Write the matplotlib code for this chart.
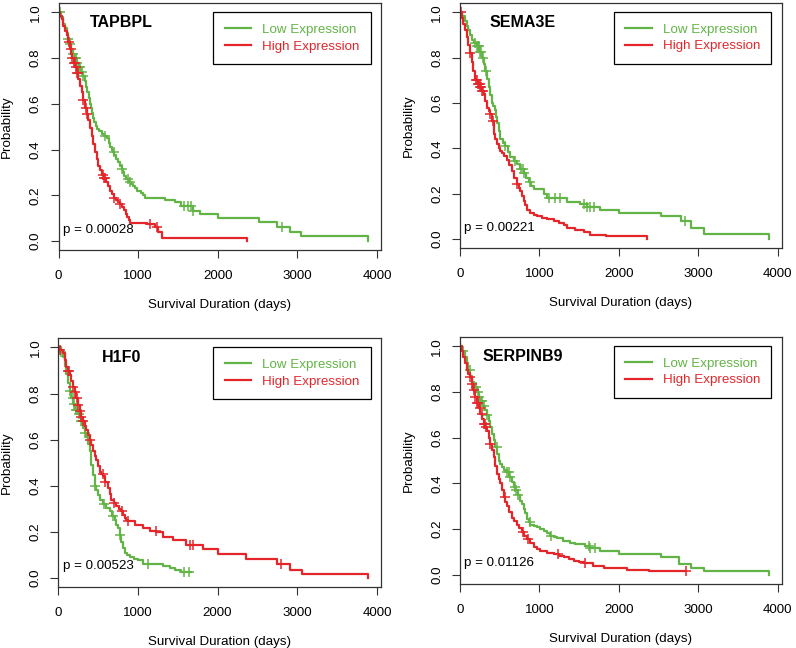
import numpy as np
import matplotlib.pyplot as plt

plt.rcParams['font.family'] = ['Liberation Sans', 'DejaVu Sans']

GREEN = '#63b446'
RED = '#e4262b'

genes = ['TAPBPL', 'SEMA3E', 'H1F0', 'SERPINB9']
pvals = ['p = 0.00028', 'p = 0.00221', 'p = 0.00523', 'p = 0.01126']

# TAPBPL
tapbpl_low_t = [0, 30, 60, 80, 100, 120, 140, 160, 180, 200, 225, 250, 280, 305, 330, 345, 360, 375, 390,
                405, 420, 435, 450, 465, 480, 510, 540, 575, 610, 630, 645, 665, 680, 700, 720, 745, 770,
                790, 810, 825, 840, 880, 910, 940, 965, 990, 1040, 1060, 1085, 1340, 1460, 1540, 1690,
                1770, 2000, 2520, 2740, 2900, 3050, 3890]
tapbpl_low_s = [1.0, 0.98, 0.95, 0.93, 0.91, 0.885, 0.86, 0.84, 0.82, 0.80, 0.78, 0.76, 0.74, 0.72, 0.70,
                0.675, 0.65, 0.625, 0.60, 0.58, 0.56, 0.54, 0.52, 0.505, 0.49, 0.48, 0.47, 0.46, 0.45,
                0.43, 0.41, 0.40, 0.39, 0.375, 0.36, 0.345, 0.33, 0.315, 0.30, 0.285, 0.27, 0.26, 0.25,
                0.24, 0.23, 0.22, 0.21, 0.20, 0.19, 0.18, 0.17, 0.155, 0.13, 0.12, 0.10, 0.085, 0.06,
                0.04, 0.02, 0.0]
tapbpl_low_cens = [20, 120, 140, 185, 200, 215, 230, 250, 270, 290, 310, 580, 690, 790, 875, 900,
                   1580, 1620, 1660, 1690, 2800]
tapbpl_high_t = [0, 20, 40, 60, 80, 100, 120, 140, 155, 170, 190, 205, 225, 247, 270, 290, 310, 330, 350,
                 372, 395, 415, 435, 457, 478, 498, 520, 540, 570, 600, 625, 650, 670, 690, 715, 740, 765,
                 790, 815, 840, 860, 880, 895, 1105, 1210, 1250, 1300, 2360]
tapbpl_high_s = [1.0, 0.985, 0.97, 0.94, 0.92, 0.90, 0.87, 0.84, 0.82, 0.80, 0.78, 0.76, 0.735, 0.71,
                 0.68, 0.65, 0.615, 0.58, 0.555, 0.53, 0.495, 0.46, 0.425, 0.39, 0.36, 0.33, 0.31, 0.29,
                 0.275, 0.26, 0.24, 0.22, 0.205, 0.19, 0.18, 0.17, 0.16, 0.15, 0.135, 0.12, 0.105, 0.09,
                 0.08, 0.075, 0.06, 0.04, 0.015, 0.0]
tapbpl_high_cens = [130, 150, 170, 190, 200, 215, 230, 245, 310, 345, 360, 555, 570, 580, 690, 770,
                    1150, 1230]

# SEMA3E
sema3e_low_t = [0, 30, 63, 85, 105, 125, 147, 175, 210, 240, 274, 295, 316, 335, 358, 380, 400, 420, 442,
                453, 463, 485, 505, 535, 568, 600, 632, 675, 716, 760, 800, 830, 863, 895, 926, 1053,
                1095, 1347, 1516, 1600, 1768, 2000, 2530, 2780, 2905, 3070, 3890]
sema3e_low_s = [1.0, 0.985, 0.96, 0.94, 0.92, 0.90, 0.88, 0.865, 0.85, 0.825, 0.80, 0.77, 0.74, 0.705,
                0.67, 0.635, 0.60, 0.585, 0.57, 0.54, 0.51, 0.475, 0.44, 0.425, 0.41, 0.385, 0.36, 0.345,
                0.33, 0.31, 0.29, 0.27, 0.25, 0.235, 0.22, 0.20, 0.18, 0.165, 0.155, 0.14, 0.13, 0.115,
                0.10, 0.078, 0.048, 0.022, 0.0]
sema3e_low_cens = [190, 210, 220, 235, 250, 265, 290, 330, 570, 690, 770, 790, 810, 880, 1120, 1200,
                   1260, 1560, 1600, 1640, 1690, 2830]
sema3e_high_t = [0, 20, 42, 63, 84, 105, 126, 147, 168, 190, 220, 253, 275, 295, 315, 337, 360, 379, 400,
                 421, 432, 442, 463, 484, 505, 526, 558, 589, 620, 653, 685, 716, 737, 758, 780, 800, 820,
                 842, 884, 925, 968, 1030, 1095, 1179, 1240, 1305, 1347, 1450, 1558, 1642, 1832, 2360]
sema3e_high_s = [1.0, 0.975, 0.95, 0.92, 0.89, 0.855, 0.82, 0.78, 0.74, 0.70, 0.685, 0.67, 0.655, 0.64,
                 0.61, 0.58, 0.565, 0.55, 0.52, 0.49, 0.465, 0.44, 0.42, 0.40, 0.39, 0.38, 0.365, 0.35,
                 0.325, 0.30, 0.27, 0.245, 0.225, 0.21, 0.19, 0.17, 0.15, 0.13, 0.115, 0.107, 0.10,
                 0.094, 0.088, 0.078, 0.07, 0.063, 0.048, 0.04, 0.03, 0.02, 0.012, 0.0]
sema3e_high_cens = [10, 130, 200, 215, 225, 235, 245, 255, 265, 275, 290, 380, 420, 720]

# H1F0
h1f0_low_t = [0, 30, 59, 80, 100, 120, 142, 163, 184, 215, 247, 280, 310, 330, 352, 373, 394, 405, 415,
              436, 457, 478, 498, 530, 561, 600, 645, 675, 708, 730, 750, 770, 792, 812, 833, 865, 896,
              950, 1001, 1064, 1315, 1400, 1462, 1546, 1670]
h1f0_low_s = [1.0, 0.98, 0.96, 0.92, 0.885, 0.845, 0.81, 0.78, 0.755, 0.73, 0.71, 0.68, 0.65, 0.63,
              0.61, 0.58, 0.55, 0.52, 0.49, 0.445, 0.40, 0.38, 0.36, 0.34, 0.32, 0.305, 0.29, 0.27,
              0.25, 0.23, 0.215, 0.185, 0.156, 0.13, 0.11, 0.10, 0.09, 0.083, 0.076, 0.061, 0.051,
              0.043, 0.036, 0.025, 0.025]
h1f0_low_cens = [40, 150, 180, 200, 220, 240, 260, 280, 300, 340, 460, 570, 690, 780, 1120, 1580, 1640]
h1f0_high_t = [0, 20, 59, 80, 100, 120, 142, 163, 184, 205, 226, 247, 268, 290, 310, 330, 352, 373, 394,
               415, 436, 457, 477, 498, 519, 540, 561, 590, 624, 645, 666, 700, 729, 760, 792, 812, 833,
               855, 875, 960, 1064, 1150, 1231, 1315, 1441, 1608, 1818, 2006, 2362, 2739, 2907, 3053,
               3890]
h1f0_high_s = [1.0, 0.99, 0.975, 0.945, 0.915, 0.90, 0.88, 0.855, 0.83, 0.805, 0.78, 0.75, 0.725, 0.70,
               0.68, 0.66, 0.64, 0.62, 0.60, 0.575, 0.55, 0.53, 0.51, 0.485, 0.46, 0.45, 0.44, 0.415,
               0.39, 0.365, 0.34, 0.325, 0.31, 0.30, 0.29, 0.275, 0.26, 0.25, 0.245, 0.23, 0.215, 0.205,
               0.20, 0.178, 0.164, 0.142, 0.124, 0.105, 0.083, 0.061, 0.032, 0.0175, 0.0]
h1f0_high_cens = [20, 120, 140, 190, 210, 230, 250, 270, 290, 310, 400, 560, 590, 700, 800, 880, 1230,
                  1650, 1690, 2800]

# SERPINB9
serpinb9_low_t = [0, 30, 63, 85, 105, 126, 147, 180, 210, 232, 253, 285, 316, 337, 358, 380, 400, 421,
                  442, 463, 484, 505, 526, 558, 590, 620, 653, 675, 695, 727, 758, 780, 800, 820, 842,
                  863, 884, 925, 968, 1010, 1053, 1095, 1137, 1180, 1221, 1300, 1389, 1450, 1516, 1570,
                  1621, 1768, 2000, 2526, 2758, 2905, 3074, 3890]
serpinb9_low_s = [1.0, 0.98, 0.955, 0.925, 0.895, 0.87, 0.845, 0.82, 0.80, 0.78, 0.76, 0.74, 0.72, 0.70,
                  0.675, 0.645, 0.617, 0.59, 0.56, 0.53, 0.50, 0.485, 0.47, 0.46, 0.45, 0.43, 0.405,
                  0.385, 0.37, 0.35, 0.325, 0.31, 0.29, 0.27, 0.245, 0.23, 0.22, 0.215, 0.208, 0.20,
                  0.193, 0.183, 0.171, 0.165, 0.16, 0.15, 0.14, 0.137, 0.135, 0.125, 0.117, 0.105, 0.09,
                  0.076, 0.047, 0.032, 0.0175, 0.0]
serpinb9_low_cens = [40, 120, 200, 220, 240, 260, 280, 300, 340, 460, 590, 610, 630, 690, 710, 730, 880,
                     1140, 1620, 1640, 1700]
serpinb9_high_t = [0, 20, 42, 63, 84, 105, 126, 147, 168, 190, 210, 232, 253, 274, 295, 316, 337, 358,
                   379, 400, 421, 442, 463, 484, 505, 526, 547, 568, 590, 620, 653, 685, 716, 747, 779,
                   810, 842, 885, 926, 968, 1010, 1095, 1179, 1240, 1305, 1370, 1432, 1495, 1558, 1680,
                   1810, 2100, 2379, 2840]
serpinb9_high_s = [1.0, 0.98, 0.953, 0.925, 0.895, 0.88, 0.865, 0.835, 0.807, 0.78, 0.75, 0.73, 0.705,
                   0.68, 0.66, 0.645, 0.63, 0.60, 0.573, 0.545, 0.515, 0.475, 0.44, 0.42, 0.40, 0.37,
                   0.34, 0.32, 0.30, 0.275, 0.25, 0.235, 0.22, 0.205, 0.186, 0.17, 0.156, 0.14, 0.12,
                   0.112, 0.105, 0.097, 0.09, 0.083, 0.076, 0.068, 0.061, 0.055, 0.05, 0.04, 0.029,
                   0.023, 0.0175, 0.0175]
serpinb9_high_cens = [130, 150, 170, 190, 210, 230, 250, 270, 300, 310, 330, 380, 560, 790, 850, 1230,
                      1570, 2840]

curves = [
    ((tapbpl_low_t, tapbpl_low_s, tapbpl_low_cens), (tapbpl_high_t, tapbpl_high_s, tapbpl_high_cens)),
    ((sema3e_low_t, sema3e_low_s, sema3e_low_cens), (sema3e_high_t, sema3e_high_s, sema3e_high_cens)),
    ((h1f0_low_t, h1f0_low_s, h1f0_low_cens), (h1f0_high_t, h1f0_high_s, h1f0_high_cens)),
    ((serpinb9_low_t, serpinb9_low_s, serpinb9_low_cens),
     (serpinb9_high_t, serpinb9_high_s, serpinb9_high_cens)),
]

# panel rectangles in figure fractions
rects = [[0.0737, 0.614, 0.405, 0.381],
         [0.578, 0.617, 0.404, 0.378],
         [0.0732, 0.094, 0.4054, 0.384],
         [0.578, 0.0988, 0.404, 0.381]]

fig = plt.figure(figsize=(7.96, 6.48), dpi=100)


def km(ax, t, s, cens, color, label):
    t = np.asarray(t, float)
    s = np.asarray(s, float)
    ax.step(t, s, where='post', color=color, lw=1.6, label=label)
    idx = np.searchsorted(t, cens, side='right') - 1
    ax.plot(cens, s[idx], ls='none', marker='+', ms=7, mew=1.1, color=color)


for i in range(4):
    ax = fig.add_axes(rects[i])
    low, high = curves[i]
    km(ax, *low, GREEN, 'Low Expression')
    km(ax, *high, RED, 'High Expression')

    ax.set_xlim(0, 4050)
    ax.set_ylim(-0.04, 1.04)
    ax.set_xticks([0, 1000, 2000, 3000, 4000])
    ax.set_yticks([0.0, 0.2, 0.4, 0.6, 0.8, 1.0])
    ax.set_yticklabels(['0.0', '0.2', '0.4', '0.6', '0.8', '1.0'])
    ax.tick_params(direction='out', length=6, width=0.8, labelsize=9.6, color='#333333')
    ax.tick_params(axis='x', pad=8.5)
    ax.tick_params(axis='y', pad=6, labelrotation=90)
    for lab in ax.get_yticklabels():
        lab.set_va('center')
    for sp in ax.spines.values():
        sp.set_linewidth(0.9)
        sp.set_color('#333333')

    ax.set_xlabel('Survival Duration (days)', fontsize=9.6)
    ax.set_ylabel('Probability', fontsize=9.6)
    ax.xaxis.set_label_coords(0.5, -0.222)
    ax.xaxis.label.set_va('center')
    ax.yaxis.set_label_coords(-0.16, 0.5)
    ax.yaxis.label.set_va('center')

    ax.text(790, 0.955, genes[i], ha='center', va='center', fontsize=11.5, fontweight='bold')
    ax.text(55, 0.05, pvals[i], ha='left', va='center', fontsize=9.6)

    leg = ax.legend(loc='upper right', bbox_to_anchor=(0.968, 0.9635), borderaxespad=0,
                    fancybox=False, edgecolor='black', framealpha=1, fontsize=9.6,
                    handlelength=2.0, handletextpad=0.8, borderpad=0.85, labelspacing=0.32,
                    labelcolor='linecolor')
    leg.get_frame().set_linewidth(0.9)

fig.savefig('out.png', dpi=100)
